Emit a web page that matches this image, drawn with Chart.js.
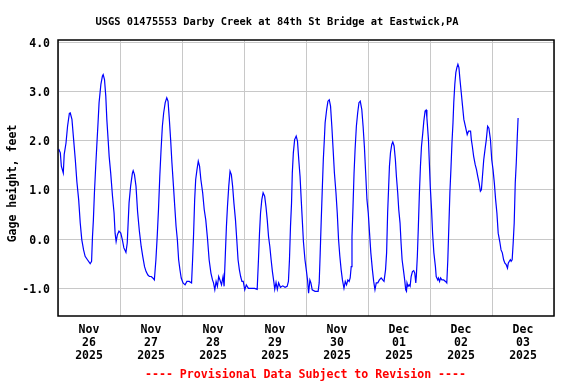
<!DOCTYPE html>
<html><head><meta charset="utf-8">
<script src="https://cdn.jsdelivr.net/npm/chart.js@4/dist/chart.umd.min.js"></script>
<style>html,body{margin:0;padding:0;background:#fff}#wrap{width:576px;height:384px}</style>
</head><body><div id="wrap"><canvas id="c" width="576" height="384"></canvas></div>
<script>
const chartTitle = 'USGS 01475553 Darby Creek at 84th St Bridge at Eastwick,PA';
const yAxisTitle = 'Gage height, feet';
const footerNote = '---- Provisional Data Subject to Revision ----';
const dayLabels = [['Nov','26','2025'],['Nov','27','2025'],['Nov','28','2025'],['Nov','29','2025'],['Nov','30','2025'],['Dec','01','2025'],['Dec','02','2025'],['Dec','03','2025']];
const yTicks = [-1, 0, 1, 2, 3, 4];
// hours since Nov 26 2025 00:00
const hours = [0.26,0.9,1.3,2.05,2.4,3.1,3.7,4.4,4.75,5.4,6.0,6.7,7.3,8.0,8.6,9.2,9.9,10.5,11.4,12.45,13.0,13.35,13.7,14.1,14.6,15.0,15.5,15.9,16.6,17.2,17.5,18.0,18.5,18.9,19.4,19.8,20.4,21.1,21.7,22.1,22.5,23.0,23.6,24.3,24.9,25.5,26.3,26.8,27.5,28.1,28.8,29.1,29.6,30.2,30.8,31.5,
32.2,32.8,33.5,34.1,34.8,35.4,36.1,36.7,37.3,37.9,38.4,38.9,39.4,39.9,40.4,40.9,41.5,42.1,42.6,43.1,43.6,44.1,44.7,45.2,45.7,46.2,46.7,47.2,47.7,48.4,49.2,49.9,50.8,51.7,52.1,52.5,52.9,53.3,53.8,54.3,54.8,55.3,56.0,56.6,57.2,57.9,58.5,59.2,59.8,60.2,60.7,61.2,61.7,62.2,62.7,
63.3,63.9,64.3,64.8,65.2,65.6,66.1,66.6,67.1,67.6,68.1,68.7,69.2,69.7,70.2,70.7,71.2,71.7,72.3,72.9,73.7,74.8,76.1,77.1,77.6,78.0,78.4,78.9,79.4,80.0,80.5,81.0,81.5,82.0,82.5,83.0,83.6,83.9,84.4,84.9,85.4,86.1,87.0,87.9,88.7,89.2,89.6,90.0,90.4,90.7,91.1,91.6,92.2,92.7,93.2,93.7,94.2,
95.0,95.6,96.1,96.6,97.0,97.5,97.9,98.4,99.5,100.7,101.1,101.5,101.9,102.3,102.7,103.1,103.4,104.0,104.5,105.0,105.5,106.0,106.5,107.0,107.6,108.1,108.6,109.1,109.6,110.1,110.7,111.2,111.7,112.2,112.7,113.1,113.5,113.8,114.2,114.6,115.0,115.5,116.0,116.5,117.0,117.6,118.1,118.6,119.1,119.6,120.1,120.6,121.1,121.7,122.2,122.7,123.2,123.8,124.4,125.1,125.7,126.2,
126.8,127.2,127.6,128.0,128.3,128.7,129.2,129.6,130.1,130.6,131.0,131.5,131.9,132.4,132.8,133.2,133.7,134.2,134.6,134.9,135.1,135.5,135.9,136.3,136.7,137.2,137.7,138.1,138.5,138.7,139.1,139.5,139.9,140.3,140.7,141.2,141.6,142.1,142.5,142.8,143.4,143.7,144.1,144.6,145.0,145.5,146.1,146.4,147.0,147.3,147.7,148.1,148.6,149.3,150.0,150.5,150.9,151.3,151.7,152.1,152.5,152.9,153.2,153.6,154.0,154.4,154.8,155.2,155.6,156.1,156.6,157.1,157.7,158.4,158.9,159.7,
160.0,160.4,160.9,161.5,162.0,162.5,163.0,163.5,163.9,164.3,164.8,165.3,165.8,166.3,166.8,167.4,167.9,168.4,168.9,169.4,169.9,170.4,171.0,171.5,172.0,172.5,173.0,173.5,174.0,174.3,174.7,175.1,175.4,175.8,176.2,176.6,177.0,177.4,177.8,178.1];
const gageFeet = [1.83,1.75,1.48,1.34,1.72,1.95,2.29,2.55,2.56,2.43,2.05,1.61,1.17,0.80,0.33,-0.01,-0.22,-0.35,-0.42,-0.50,-0.45,0.05,0.39,0.94,1.48,1.88,2.36,2.77,3.14,3.31,3.34,3.24,2.90,2.43,2.02,1.68,1.34,0.87,0.53,0.12,-0.05,0.09,0.16,0.12,-0.01,-0.18,-0.27,-0.08,0.73,1.07,1.34,1.39,1.31,1.07,0.56,0.16,
-0.15,-0.35,-0.56,-0.66,-0.73,-0.76,-0.76,-0.79,-0.83,-0.42,0.05,0.60,1.27,1.82,2.29,2.56,2.77,2.87,2.80,2.43,2.02,1.55,1.07,0.66,0.26,-0.01,-0.42,-0.62,-0.79,-0.89,-0.93,-0.86,-0.86,-0.89,-0.42,0.12,0.80,1.21,1.41,1.58,1.48,1.21,0.94,0.60,0.39,-0.01,-0.42,-0.69,-0.83,-0.89,-1.03,-0.86,-0.96,-0.76,-0.83,
-0.93,-0.76,-0.96,-0.28,0.26,0.66,1.07,1.38,1.31,1.07,0.73,0.39,-0.01,-0.42,-0.62,-0.76,-0.86,-0.86,-1.03,-0.93,-1.00,-1.00,-1.00,-1.02,-0.42,0.12,0.53,0.80,0.94,0.87,0.66,0.39,0.05,-0.15,-0.42,-0.66,-0.89,-1.02,-0.88,-1.02,-0.89,-0.98,-0.95,-0.98,-0.96,-0.86,-0.42,0.26,0.73,1.34,1.75,2.02,2.09,1.99,1.61,1.27,0.75,
-0.05,-0.42,-0.62,-0.83,-1.10,-0.83,-0.89,-1.03,-1.06,-1.06,-0.89,-0.28,0.39,1.00,1.61,2.02,2.36,2.63,2.80,2.83,2.70,2.29,1.82,1.34,0.94,0.53,-0.01,-0.35,-0.62,-0.83,-1.00,-0.86,-0.93,-0.83,-0.86,-0.79,-0.56,0.05,0.66,1.34,1.82,2.29,2.56,2.77,2.80,2.63,2.29,1.88,1.34,0.80,0.53,0.12,-0.28,-0.62,-0.86,-1.03,-0.89,-0.89,-0.83,-0.79,-0.83,-0.86,
-0.62,-0.28,0.53,1.07,1.48,1.75,1.92,1.97,1.89,1.61,1.27,0.94,0.60,0.33,-0.08,-0.42,-0.62,-0.83,-1.03,-1.06,-0.89,-0.96,-0.93,-0.96,-0.76,-0.66,-0.64,-0.69,-0.89,-0.76,-0.35,0.26,0.94,1.48,1.88,2.15,2.39,2.60,2.62,2.46,2.02,1.61,1.07,0.60,0.12,-0.28,-0.56,-0.76,-0.83,-0.79,-0.86,-0.79,-0.83,-0.83,-0.86,-0.89,-0.42,0.26,0.94,1.42,1.95,2.36,2.77,3.14,3.38,3.48,3.55,3.48,3.24,2.97,2.70,2.43,2.29,2.12,2.19,2.19,
2.02,1.88,1.68,1.51,1.41,1.27,1.14,0.97,1.00,1.27,1.61,1.82,2.02,2.29,2.25,2.02,1.61,1.41,1.14,0.80,0.53,0.12,-0.05,-0.22,-0.28,-0.42,-0.49,-0.52,-0.59,-0.49,-0.45,-0.42,-0.45,-0.42,-0.08,0.33,1.14,1.55,2.09,2.46];

const FONT = '"DejaVu Sans Mono", "Liberation Mono", monospace';
const points = hours.map((h, i) => ({ x: h, y: gageFeet[i] }));

const decor = {
  id: 'decor',
  afterDraw(chart) {
    const ctx = chart.ctx, a = chart.chartArea;
    ctx.save();
    ctx.strokeStyle = '#000';
    ctx.lineWidth = 1.5;
    ctx.strokeRect(a.left, a.top, a.right - a.left, a.bottom - a.top);
    ctx.fillStyle = '#000';
    ctx.textAlign = 'center';
    ctx.textBaseline = 'alphabetic';
    ctx.font = 'bold 10.4px ' + FONT;
    ctx.fillText(chartTitle, 277, 24.5);
    ctx.font = 'bold 11.5px ' + FONT;
    ctx.save();
    ctx.translate(16, 183.5);
    ctx.rotate(-Math.PI / 2);
    ctx.fillText(yAxisTitle, 0, 0);
    ctx.restore();
    ctx.fillStyle = '#ff0000';
    ctx.font = 'bold 11.6px ' + FONT;
    ctx.fillText(footerNote, 305.5, 378);
    ctx.restore();
  }
};

new Chart(document.getElementById('c'), {
  type: 'line',
  data: { datasets: [{ data: points, borderColor: '#0000ff', borderWidth: 1.2, pointRadius: 0, tension: 0, fill: false }] },
  options: {
    responsive: false, animation: false, devicePixelRatio: 1,
    layout: { padding: { top: 40, right: 22, left: 0, bottom: 0 } },
    plugins: { legend: { display: false }, title: { display: false }, tooltip: { enabled: false } },
    scales: {
      x: {
        type: 'linear', min: 0, max: 192,
        afterBuildTicks: s => { const t = []; for (let k = 0; k <= 16; k++) t.push({ value: k * 12 }); s.ticks = t; },
        afterFit: s => { s.height = 68; },
        grid: { color: c => (c.tick && c.tick.value % 24 === 0) ? '#c8c8c8' : 'rgba(0,0,0,0)', drawTicks: false, lineWidth: 1 },
        border: { display: false },
        ticks: {
          autoSkip: false, maxRotation: 0, padding: 8, color: '#000',
          font: { family: FONT, size: 11.5, weight: 'bold', lineHeight: 1.13 },
          callback: v => { const k = (v - 12) / 24; return (Number.isInteger(k) && k >= 0 && k < dayLabels.length) ? dayLabels[k] : ''; }
        }
      },
      y: {
        type: 'linear', min: -1.562, max: 4.042,
        afterBuildTicks: s => { s.ticks = yTicks.map(v => ({ value: v })); },
        afterFit: s => { s.width = 58; },
        grid: { color: '#c8c8c8', drawTicks: false, lineWidth: 1 },
        border: { display: false },
        ticks: { padding: 8, labelOffset: 1.5, color: '#000', font: { family: FONT, size: 11.5, weight: 'bold' }, callback: v => Number(v).toFixed(1) }
      }
    }
  },
  plugins: [decor]
});
</script></body></html>
